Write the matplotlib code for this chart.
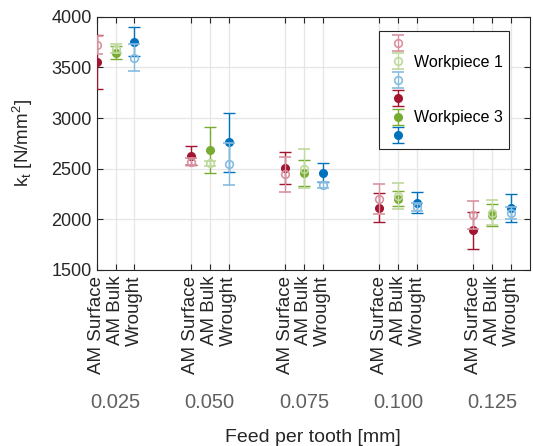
import matplotlib
matplotlib.use("Agg")
import matplotlib.pyplot as plt
import numpy as np
from matplotlib.transforms import blended_transform_factory

plt.rcParams['font.family'] = ['Liberation Sans', 'DejaVu Sans']
plt.rcParams['mathtext.fontset'] = 'custom'
plt.rcParams['mathtext.rm'] = 'Liberation Sans'
plt.rcParams['mathtext.it'] = 'Liberation Sans'

# ---- data ----
feeds = ['0.025', '0.050', '0.075', '0.100', '0.125']
materials = ['AM Surface', 'AM Bulk', 'Wrought']

wp1_ams = [3720, 2570, 2445, 2200, 2040]
wp1_ams_err = [85, 35, 172, 148, 140]
wp1_bulk = [3685, 2555, 2500, 2232, 2067]
wp1_bulk_err = [43, 25, 190, 130, 120]
wp1_wrought = [3596, 2545, 2340, 2120, 2061]
wp1_wrought_err = [132, 205, 30, 42, 60]

wp3_ams = [3555, 2630, 2505, 2116, 1890]
wp3_ams_err = [268, 95, 160, 144, 184]
wp3_bulk = [3645, 2685, 2460, 2205, 2044]
wp3_bulk_err = [65, 230, 130, 70, 110]
wp3_wrought = [3753, 2760, 2462, 2166, 2110]
wp3_wrought_err = [142, 290, 90, 108, 137]

yticks = [1500, 2000, 2500, 3000, 3500, 4000]
legend_labels = ['Workpiece 1', 'Workpiece 3']

dark = {'AM Surface': '#A2142F', 'AM Bulk': '#77AC30', 'Wrought': '#0072BD'}
light = {'AM Surface': '#D8929F', 'AM Bulk': '#BFD89C', 'Wrought': '#86BCE0'}

wp1 = {'AM Surface': (wp1_ams, wp1_ams_err), 'AM Bulk': (wp1_bulk, wp1_bulk_err),
       'Wrought': (wp1_wrought, wp1_wrought_err)}
wp3 = {'AM Surface': (wp3_ams, wp3_ams_err), 'AM Bulk': (wp3_bulk, wp3_bulk_err),
       'Wrought': (wp3_wrought, wp3_wrought_err)}

fig = plt.figure(figsize=(5.33, 4.46), dpi=100)
ax = fig.add_axes([96.7 / 533, 1 - 270 / 446, (530 - 96.7) / 533, (270 - 16.7) / 446])

group_step = 5
xpos = {}
for j, m in enumerate(materials):
    xpos[m] = np.array([1 + group_step * g + j for g in range(len(feeds))])

h1, h3 = [], []
for m in materials:
    vals, errs = wp3[m]
    h = ax.errorbar(xpos[m], vals, yerr=errs, fmt='o', color=dark[m], ms=5.5,
                    mfc=dark[m], mec=dark[m], elinewidth=1.0, capsize=4, capthick=1.0,
                    zorder=3)
    h3.append(h)
for m in materials:
    vals, errs = wp1[m]
    h = ax.errorbar(xpos[m], vals, yerr=errs, fmt='o', color=light[m], ms=5.5,
                    mfc='none', mec=light[m], mew=1.2, elinewidth=1.0, capsize=4,
                    capthick=1.0, zorder=4)
    h1.append(h)

ax.set_xlim(1, 24)
ax.set_ylim(1500, 4000)
ax.set_yticks(yticks)
ax.set_yticklabels([str(v) for v in yticks])
allx = np.sort(np.concatenate([xpos[m] for m in materials]))
ax.set_xticks(allx)
ax.set_xticklabels(materials * len(feeds), rotation=90, va='top', ha='center')

ax.grid(True, color='#E6E6E6', linewidth=0.9)
ax.set_axisbelow(True)
ax.tick_params(direction='in', length=4, width=0.8, colors='#262626',
               labelsize=13, top=True, right=True, labelcolor='#262626')
ax.tick_params(axis='x', pad=4, labelsize=13.5)
for s in ax.spines.values():
    s.set_color('#262626')
    s.set_linewidth(0.8)

# group labels
trans = blended_transform_factory(ax.transData, ax.transAxes)
for g, f in enumerate(feeds):
    ax.text(xpos['AM Bulk'][g], (270 - 402) / 253, f, transform=trans, ha='center',
            va='center', fontsize=14.5, color='#606060')

ax.text(0.5, (270 - 437) / 253, 'Feed per tooth [mm]', transform=ax.transAxes,
        ha='center', va='center', fontsize=14, color='#262626')

ax.set_ylabel(r'k$_\mathregular{t}$ [N/mm$^\mathregular{2}$]', fontsize=13.5, color='#262626')
ax.yaxis.set_label_coords((35 - 96.7) / 433.3, 0.5)

handles = h1 + h3
labels = ['', legend_labels[0], '', '', legend_labels[1], '']
leg = ax.legend(handles, labels, loc='upper left',
                bbox_to_anchor=((379 - 96.7) / 433.3, (270 - 31) / 253),
                fontsize=11.5, frameon=True, fancybox=False, framealpha=1,
                edgecolor='#262626', borderpad=0.35, labelspacing=0.22,
                handlelength=1.7, handletextpad=0.15, borderaxespad=0)
leg.get_frame().set_linewidth(0.8)

fig.savefig('out.png', dpi=100)
